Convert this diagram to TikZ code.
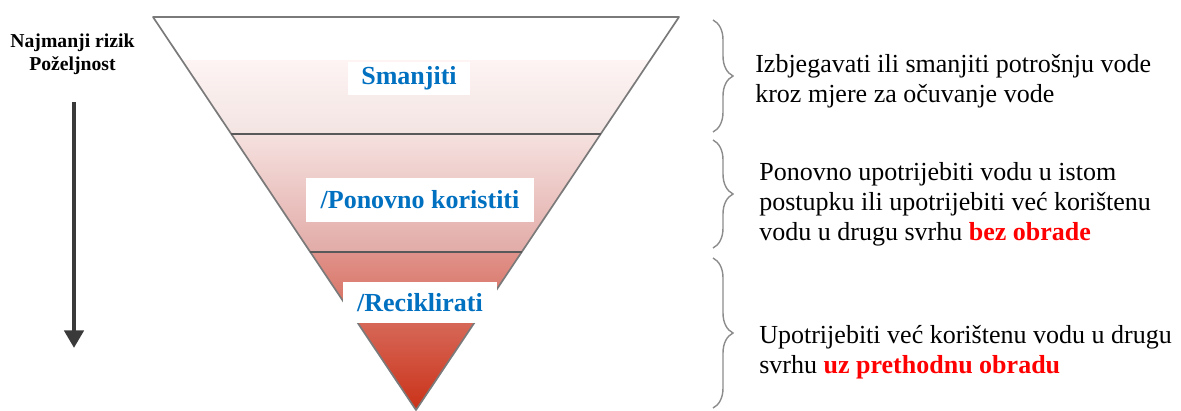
\documentclass[tikz,border=0pt]{standalone}
\usepackage{fontspec}
\setmainfont{Liberation Serif}
\usetikzlibrary{arrows.meta,calc,decorations.pathreplacing}

\definecolor{levelblue}{HTML}{0070C0}
\definecolor{hlred}{HTML}{FF0000}
\definecolor{edgegray}{HTML}{7A7A7A}
\definecolor{bracegray}{HTML}{8C8C8C}
\definecolor{arrowgray}{HTML}{3A3A3A}
\definecolor{bandAtop}{HTML}{FDF4F3}
\definecolor{bandAbot}{HTML}{F3E4E2}
\definecolor{bandBtop}{HTML}{F5E1DF}
\definecolor{bandBbot}{HTML}{E2ABA7}
\definecolor{bandCtop}{HTML}{E0938B}
\definecolor{bandCbot}{HTML}{CA3016}

\begin{document}
\begin{tikzpicture}[
    x=0.025cm,y=-0.025cm,
    outline/.style={draw=edgegray,line width=1.2pt,line join=round},
    divider/.style={draw=black!65,line width=1.2pt},
    levelbox/.style={fill=white,inner sep=0pt,text=levelblue,
        font=\fontsize{18.5}{22}\selectfont\bfseries},
    note/.style={anchor=north west,inner sep=0pt,align=left,
        font=\fontsize{18.5}{21.5}\selectfont},
    waterbrace/.style={draw=bracegray,line width=1pt,
        decorate,decoration={brace,amplitude=0.5cm}},
    downarrow/.style={draw=arrowgray,line width=3.5pt,
        -{Triangle[width=13.5pt,length=12.5pt]}}
]
\useasboundingbox (0,0) rectangle (1181,410);

% Pyramid corners
\coordinate (tl) at (153,17);
\coordinate (tr) at (679,17);
\coordinate (apex) at (416,410);
\coordinate (l1) at ($(tl)!0.298!(apex)$);
\coordinate (r1) at ($(tr)!0.298!(apex)$);
\coordinate (l2) at ($(tl)!0.598!(apex)$);
\coordinate (r2) at ($(tr)!0.598!(apex)$);

% Shaded bands
\begin{scope}
\clip (tl) -- (tr) -- (apex) -- cycle;
\shade[top color=bandAtop,bottom color=bandAbot] (140,60) rectangle (690,134);
\shade[top color=bandBtop,bottom color=bandBbot] (140,134) rectangle (690,252);
\shade[top color=bandCtop,bottom color=bandCbot] (140,252) rectangle (690,412);
\end{scope}
\draw[outline] (tl) -- (tr) -- (apex) -- cycle;
\draw[divider] (l1) -- (r1);
\draw[divider] (l2) -- (r2);

% Level labels
\node[levelbox,minimum width=3.05cm,minimum height=0.83cm] (reduce) at (409,78.5) {Smanjiti};
\node[levelbox,minimum width=5.7cm,minimum height=1.1cm] (reuse) at (420,200) {/Ponovno koristiti};
\node[levelbox,minimum width=3.85cm,minimum height=1.02cm] (recycle) at (420,302.5) {/Reciklirati};

% Left side: direction of preference
\node[align=center,inner sep=0pt,font=\fontsize{14}{16.5}\selectfont\bfseries] (risk) at (72.5,54.5) {Najmanji rizik\\Poželjnost};
\coordinate (arrtop) at (74,102);
\coordinate (arrend) at (74,348);
\draw[downarrow] (arrtop) -- (arrend);

% Braces
\coordinate (b1top) at (713,20);
\coordinate (b1bot) at (713,132);
\coordinate (b2top) at (713,140);
\coordinate (b2bot) at (713,248);
\coordinate (b3top) at (713,258);
\coordinate (b3bot) at (713,408);
\draw[waterbrace] (b1top) -- (b1bot);
\draw[waterbrace] (b2top) -- (b2bot);
\draw[waterbrace] (b3top) -- (b3bot);

% Descriptions
\node[note] (avoid) at (755,54) {Izbjegavati ili smanjiti potrošnju vode\\kroz mjere za očuvanje vode};
\node[note] (again) at (759,162) {Ponovno upotrijebiti vodu u istom\\postupku ili upotrijebiti već korištenu\\vodu u drugu svrhu {\bfseries\color{hlred}bez obrade}};
\node[note] (treat) at (759,325) {Upotrijebiti već korištenu vodu u drugu\\svrhu {\bfseries\color{hlred}uz prethodnu obradu}};

\end{tikzpicture}
\end{document}
